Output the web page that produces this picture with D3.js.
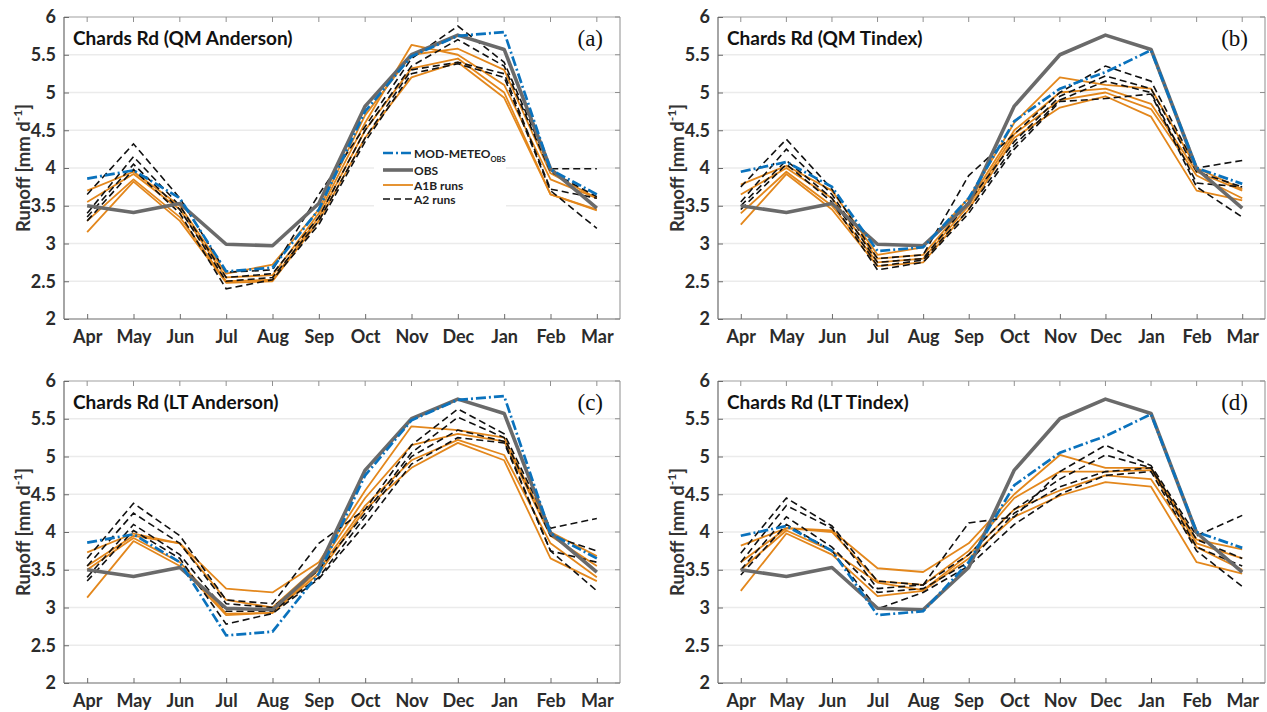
<!DOCTYPE html>
<html>
<head>
<meta charset="utf-8">
<script src="https://cdn.jsdelivr.net/npm/d3@7"></script>
<style>
  html, body { margin: 0; padding: 0; background: #fff; }
  svg { display: block; }
</style>
</head>
<body>
<svg id="chart" width="1267" height="712"></svg>
<script>
// ---------------- DATA ----------------
const months = ["Apr","May","Jun","Jul","Aug","Sep","Oct","Nov","Dec","Jan","Feb","Mar"];
const yTickValues = [2, 2.5, 3, 3.5, 4, 4.5, 5, 5.5, 6];
const yGridValues = [2.5, 3, 3.5, 4, 4.5, 5, 5.5];

const obs = [3.50, 3.41, 3.53, 2.99, 2.97, 3.53, 4.82, 5.50, 5.76, 5.57, 3.99, 3.47];
const modAnderson = [3.86, 3.97, 3.60, 2.63, 2.68, 3.45, 4.75, 5.48, 5.75, 5.80, 3.98, 3.65];
const modTindex = [3.95, 4.08, 3.75, 2.90, 2.95, 3.60, 4.62, 5.05, 5.27, 5.56, 4.00, 3.79];

// (a) QM Anderson
const a1bQMAnderson = [
  [3.70, 3.95, 3.50, 2.60, 2.72, 3.45, 4.70, 5.50, 5.58, 5.30, 3.93, 3.60],
  [3.55, 3.92, 3.45, 2.55, 2.58, 3.40, 4.60, 5.63, 5.50, 5.10, 3.85, 3.60],
  [3.30, 3.85, 3.35, 2.50, 2.52, 3.35, 4.50, 5.32, 5.45, 5.00, 3.65, 3.45],
  [3.15, 3.82, 3.30, 2.48, 2.50, 3.30, 4.40, 5.20, 5.40, 4.93, 3.65, 3.44]
];
const a2QMAnderson = [
  [3.65, 4.32, 3.60, 2.62, 2.65, 3.65, 4.55, 5.45, 5.88, 5.40, 3.99, 3.99],
  [3.40, 4.15, 3.50, 2.55, 2.60, 3.35, 4.50, 5.35, 5.70, 5.35, 3.95, 3.62],
  [3.35, 4.05, 3.45, 2.50, 2.55, 3.30, 4.40, 5.30, 5.40, 5.25, 3.72, 3.60],
  [3.30, 3.98, 3.40, 2.40, 2.52, 3.25, 4.35, 5.25, 5.38, 5.20, 3.70, 3.20]
];
// (b) QM Tindex
const a1bQMTindex = [
  [3.78, 4.03, 3.70, 2.85, 2.95, 3.60, 4.60, 5.20, 5.10, 5.05, 4.00, 3.72],
  [3.65, 4.00, 3.60, 2.80, 2.85, 3.55, 4.50, 5.00, 5.05, 4.85, 3.95, 3.70],
  [3.40, 3.95, 3.50, 2.75, 2.80, 3.50, 4.45, 4.90, 5.00, 4.78, 3.90, 3.60],
  [3.25, 3.92, 3.45, 2.70, 2.75, 3.45, 4.40, 4.80, 4.95, 4.68, 3.70, 3.57]
];
const a2QMTindex = [
  [3.75, 4.38, 3.72, 2.80, 2.85, 3.90, 4.45, 5.00, 5.35, 5.15, 4.00, 4.10],
  [3.55, 4.25, 3.65, 2.75, 2.80, 3.55, 4.35, 4.95, 5.22, 5.05, 3.95, 3.75],
  [3.50, 4.10, 3.60, 2.70, 2.78, 3.45, 4.30, 4.90, 5.15, 5.00, 3.80, 3.75],
  [3.45, 4.05, 3.55, 2.65, 2.75, 3.40, 4.25, 4.88, 4.92, 4.98, 3.75, 3.35]
];
// (c) LT Anderson
const a1bLTAnderson = [
  [3.73, 3.98, 3.85, 3.25, 3.20, 3.60, 4.55, 5.40, 5.35, 5.25, 4.00, 3.68],
  [3.55, 3.95, 3.85, 3.10, 3.00, 3.55, 4.45, 5.15, 5.30, 5.20, 3.95, 3.55],
  [3.50, 3.92, 3.60, 2.92, 2.93, 3.50, 4.35, 4.95, 5.22, 5.02, 3.85, 3.40],
  [3.13, 3.88, 3.55, 2.90, 2.93, 3.45, 4.30, 4.85, 5.18, 4.95, 3.65, 3.35]
];
const a2LTAnderson = [
  [3.65, 4.38, 3.95, 3.10, 3.05, 3.85, 4.30, 5.15, 5.63, 5.30, 4.05, 4.18],
  [3.55, 4.25, 3.85, 3.05, 3.00, 3.50, 4.25, 5.05, 5.52, 5.25, 3.95, 3.75],
  [3.40, 4.10, 3.70, 2.95, 2.95, 3.40, 4.20, 5.00, 5.35, 5.20, 3.75, 3.60],
  [3.35, 4.02, 3.65, 2.78, 2.92, 3.38, 4.10, 4.90, 5.25, 5.18, 3.75, 3.22]
];
// (d) LT Tindex
const a1bLTTindex = [
  [3.82, 4.05, 4.02, 3.52, 3.47, 3.85, 4.50, 5.02, 4.85, 4.85, 3.90, 3.77],
  [3.60, 4.05, 4.00, 3.35, 3.30, 3.75, 4.45, 4.80, 4.80, 4.82, 3.85, 3.65],
  [3.50, 4.02, 3.75, 3.33, 3.23, 3.70, 4.30, 4.55, 4.75, 4.70, 3.80, 3.50],
  [3.22, 3.98, 3.70, 3.15, 3.22, 3.65, 4.20, 4.48, 4.66, 4.60, 3.60, 3.45]
];
const a2LTTindex = [
  [3.72, 4.45, 4.08, 3.35, 3.30, 4.12, 4.20, 4.80, 5.15, 4.88, 3.95, 4.22],
  [3.60, 4.35, 4.05, 3.25, 3.30, 3.70, 4.30, 4.70, 5.02, 4.85, 3.90, 3.65],
  [3.50, 4.20, 3.80, 3.20, 3.25, 3.60, 4.25, 4.60, 4.80, 4.85, 3.80, 3.55],
  [3.43, 4.10, 3.75, 2.98, 3.20, 3.55, 4.10, 4.50, 4.75, 4.80, 3.75, 3.28]
];

const titles = ["Chards Rd (QM Anderson)", "Chards Rd (QM Tindex)", "Chards Rd (LT Anderson)", "Chards Rd (LT Tindex)"];
const panelLetters = ["(a)", "(b)", "(c)", "(d)"];
const legendLabels = ["MOD-METEO", "OBS", "A1B runs", "A2 runs"];

// ---------------- LAYOUT / STYLE ----------------
const colBlue = "#0a72bd", colObs = "#6a6a6a", colOrange = "#e3871c", colA2 = "#111";
const sansFont = "Lato, 'Open Sans', sans-serif";
const serifFont = "'Liberation Serif', 'DejaVu Serif', serif";

const panels = [
  {x0: 64, x1: 620, yTop: 17, yBot: 319, mod: modAnderson, a1b: a1bQMAnderson, a2: a2QMAnderson, legend: true},
  {x0: 718, x1: 1265, yTop: 17, yBot: 319, mod: modTindex, a1b: a1bQMTindex, a2: a2QMTindex, legend: false},
  {x0: 64, x1: 620, yTop: 381, yBot: 683, mod: modAnderson, a1b: a1bLTAnderson, a2: a2LTAnderson, legend: false},
  {x0: 718, x1: 1265, yTop: 381, yBot: 683, mod: modTindex, a1b: a1bLTTindex, a2: a2LTTindex, legend: false}
];

const svg = d3.select("#chart");

panels.forEach((p, i) => {
  const x = d3.scalePoint().domain(months).range([p.x0, p.x1]).padding(0.5);
  const y = d3.scaleLinear().domain([2, 6]).range([p.yBot, p.yTop]);
  const g = svg.append("g");

  // grid
  g.selectAll(".grid").data(yGridValues).enter().append("line")
    .attr("x1", p.x0).attr("x2", p.x1)
    .attr("y1", d => y(d)).attr("y2", d => y(d))
    .attr("stroke", "#ebebeb").attr("stroke-width", 1.5);

  // box top/right (lighter)
  g.append("line").attr("x1", p.x0).attr("x2", p.x1).attr("y1", p.yTop).attr("y2", p.yTop)
    .attr("stroke", "#a0a0a0").attr("stroke-width", 1.2);
  g.append("line").attr("x1", p.x1).attr("x2", p.x1).attr("y1", p.yTop).attr("y2", p.yBot)
    .attr("stroke", "#a0a0a0").attr("stroke-width", 1.2);

  // bottom axis
  const xAxis = d3.axisBottom(x).tickSizeInner(-5).tickSizeOuter(0).tickPadding(15);
  const gx = g.append("g").attr("transform", `translate(0,${p.yBot})`).call(xAxis);
  gx.select(".domain").attr("stroke", "#6a6a6a").attr("stroke-width", 1.2)
    .attr("d", `M${p.x0},0H${p.x1}`);
  gx.selectAll(".tick line").attr("stroke", "#6a6a6a");
  gx.selectAll(".tick text").attr("font-family", sansFont).attr("font-size", 18)
    .attr("font-weight", "bold").attr("fill", "#2b2b2b").attr("dy", "0.5em");

  // top ticks
  g.selectAll(".ttick").data(months).enter().append("line")
    .attr("x1", d => x(d)).attr("x2", d => x(d))
    .attr("y1", p.yTop).attr("y2", p.yTop + 5).attr("stroke", "#909090");

  // left axis
  const yAxis = d3.axisLeft(y).tickValues(yTickValues).tickFormat(d => String(d))
    .tickSizeInner(-5).tickSizeOuter(0).tickPadding(8);
  const gy = g.append("g").attr("transform", `translate(${p.x0},0)`).call(yAxis);
  gy.select(".domain").attr("stroke", "#6a6a6a").attr("stroke-width", 1.2)
    .attr("d", `M0,${p.yBot}V${p.yTop}`);
  gy.selectAll(".tick line").attr("stroke", "#6a6a6a");
  gy.selectAll(".tick text").attr("font-family", sansFont).attr("font-size", 18)
    .attr("font-weight", "bold").attr("fill", "#2b2b2b");

  // right ticks
  g.selectAll(".rtick").data(yTickValues).enter().append("line")
    .attr("x1", p.x1 - 5).attr("x2", p.x1)
    .attr("y1", d => y(d)).attr("y2", d => y(d)).attr("stroke", "#909090");

  // y label
  const ylab = g.append("text")
    .attr("text-anchor", "middle").attr("font-family", sansFont)
    .attr("transform", `translate(${p.x0 - 34},${(p.yTop + p.yBot) / 2}) rotate(-90)`)
    .attr("font-size", 18.5).attr("font-weight", "bold").attr("fill", "#333");
  ylab.append("tspan").text("Runoff [mm d");
  ylab.append("tspan").attr("font-size", 12).attr("dy", -8).text("-1");
  ylab.append("tspan").attr("dy", 8).text("]");

  const line = d3.line().x((d, k) => x(months[k])).y(d => y(d));

  // A1B runs
  g.selectAll(".a1b").data(p.a1b).enter().append("path")
    .attr("d", line).attr("fill", "none").attr("stroke", colOrange).attr("stroke-width", 1.8)
    .attr("stroke-linejoin", "round");
  // A2 runs
  g.selectAll(".a2").data(p.a2).enter().append("path")
    .attr("d", line).attr("fill", "none").attr("stroke", colA2).attr("stroke-width", 1.6)
    .attr("stroke-dasharray", "7,4");
  // OBS
  g.append("path").datum(obs).attr("d", line).attr("fill", "none")
    .attr("stroke", colObs).attr("stroke-width", 3.6).attr("stroke-linejoin", "round");
  // MOD-METEO
  g.append("path").datum(p.mod).attr("d", line).attr("fill", "none")
    .attr("stroke", colBlue).attr("stroke-width", 2.7)
    .attr("stroke-dasharray", "10,3,2,3");

  // title
  g.append("text").attr("x", p.x0 + 9).attr("y", p.yTop + 28)
    .attr("font-family", sansFont).attr("font-size", 19).attr("font-weight", "bold")
    .attr("fill", "#111").text(titles[i]);
  // panel letter
  g.append("text").attr("x", p.x1 - 17).attr("y", p.yTop + 29).attr("text-anchor", "end")
    .attr("font-family", serifFont).attr("font-size", 23).attr("fill", "#111")
    .text(panelLetters[i]);

  if (p.legend) {
    const lg = g.append("g");
    lg.append("rect").attr("x", 374).attr("y", 141).attr("width", 132).attr("height", 70)
      .attr("fill", "#fff");
    const rows = [
      {y: 153, stroke: colBlue, w: 2.7, dash: "10,3,2,3"},
      {y: 170, stroke: colObs, w: 3.6, dash: null},
      {y: 185, stroke: colOrange, w: 1.8, dash: null},
      {y: 199, stroke: colA2, w: 1.6, dash: "7,4"}
    ];
    rows.forEach((r, k) => {
      lg.append("line").attr("x1", 383).attr("x2", 413).attr("y1", r.y).attr("y2", r.y)
        .attr("stroke", r.stroke).attr("stroke-width", r.w)
        .attr("stroke-dasharray", r.dash);
      const t = lg.append("text").attr("x", 414).attr("y", r.y + 4.5)
        .attr("font-family", sansFont).attr("font-size", 12).attr("font-weight", "bold")
        .attr("fill", "#222");
      t.append("tspan").text(legendLabels[k]);
      if (k === 0) t.append("tspan").attr("font-size", 7.5).attr("dy", 4).text("OBS");
    });
  }
});
</script>
</body>
</html>
